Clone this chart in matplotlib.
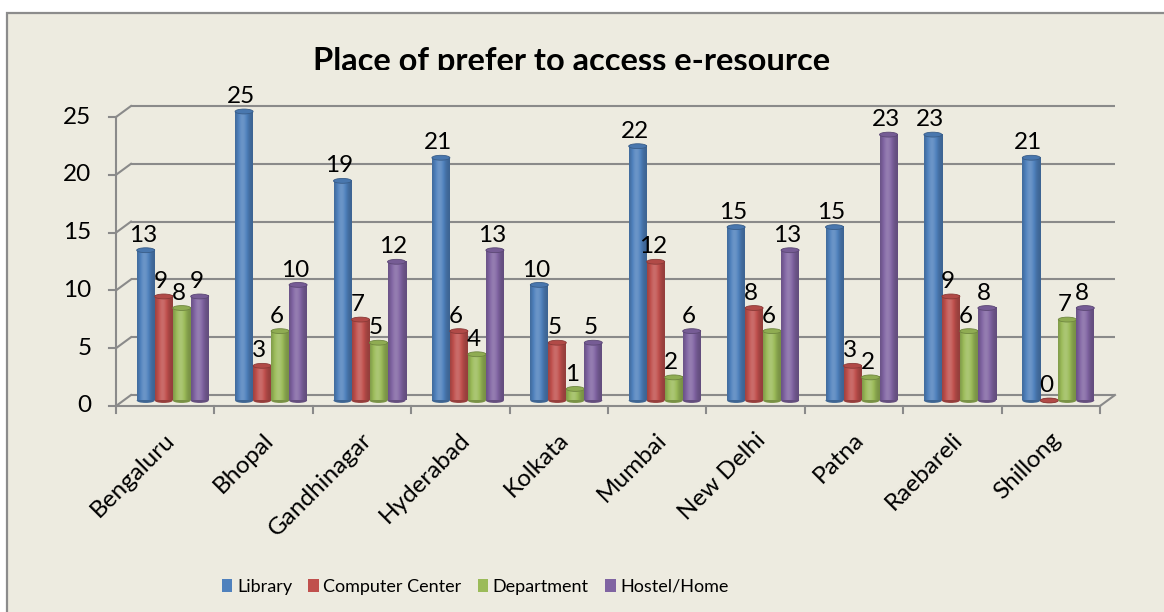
import numpy as np
import matplotlib
matplotlib.use("Agg")
import matplotlib.pyplot as plt
import matplotlib.colors as mcolors
from matplotlib.patches import Ellipse, Rectangle, Patch

# -------------------------------
# Data
# -------------------------------
cities = ["Bengaluru", "Bhopal", "Gandhinagar", "Hyderabad", "Kolkata",
          "Mumbai", "New Delhi", "Patna", "Raebareli", "Shillong"]
library = [13, 25, 19, 21, 10, 22, 15, 15, 23, 21]
computer_center = [9, 3, 7, 6, 5, 12, 8, 3, 9, 0]
department = [8, 6, 5, 4, 1, 2, 6, 2, 6, 7]
hostel_home = [9, 10, 12, 13, 5, 6, 13, 23, 8, 8]
series_names = ["Library", "Computer Center", "Department", "Hostel/Home"]
y_ticks = [0, 5, 10, 15, 20, 25]
title = "Place of prefer to access e-resource"

colors = ["#4F81BD", "#C0504D", "#9BBB59", "#8064A2"]
series = [library, computer_center, department, hostel_home]

BG = "#EDEBE0"
GRID = "#8A8A8A"
FONT = "Lato"

W, H = 1164, 612
fig = plt.figure(figsize=(W / 100, H / 100), dpi=100, facecolor="white")

# chart area background + border (cut off at right and bottom)
fig.patches.append(Rectangle((7 / W, -0.1), 1.2, (H - 13) / H + 0.1,
                             transform=fig.transFigure, facecolor=BG,
                             edgecolor="#8C8C8C", lw=1.6, zorder=-10))

ax = fig.add_axes([116 / W, (H - 406) / H, 984 / W, 289 / H])
ax.set_xlim(0, len(cities))
ax.set_ylim(0, 25)
ax.axis("off")

# 3D depth offsets (data units)
DX = 15 / 98.4
DY = 11 / 11.56
bar_w = 18 / 98.4
ell_h = 0.42


def shade(rgb, s):
    if s < 1:
        return np.clip(rgb * s, 0, 1)
    return np.clip(rgb + (1 - rgb) * (s - 1), 0, 1)


def cylinder(left, height, base, color, z):
    rgb = np.array(mcolors.to_rgb(color))
    t = np.linspace(0, 1, 64)
    s = 0.76 + 0.40 * np.exp(-((t - 0.42) / 0.32) ** 2)
    row = np.array([shade(rgb, v) for v in s])
    img = np.stack([row, row])
    cx = left + bar_w / 2
    ax.add_patch(Ellipse((cx, base), bar_w, ell_h, facecolor=shade(rgb, 0.78),
                         edgecolor="none", zorder=z, clip_on=False))
    if height > 0:
        ax.imshow(img, extent=[left, left + bar_w, base, base + height],
                  aspect="auto", interpolation="bilinear", zorder=z + 0.1,
                  clip_on=False)
    ax.add_patch(Ellipse((cx, base + height), bar_w, ell_h,
                         facecolor=shade(rgb, 0.92), edgecolor=shade(rgb, 0.72),
                         lw=0.6, zorder=z + 0.2, clip_on=False))


# back wall gridlines, ticks and floor
for v in y_ticks:
    ax.plot([DX, len(cities) + DX], [v + DY, v + DY], color=GRID, lw=1.5,
            zorder=1, clip_on=False, solid_capstyle="butt")
    ax.plot([0, DX], [v, v + DY], color=GRID, lw=1.5, zorder=1, clip_on=False)
    ax.plot([-0.07, 0], [v, v], color=GRID, lw=1.5, zorder=1, clip_on=False)
    ax.text(-0.25, v, str(v), ha="right", va="center", fontsize=17.5,
            family=FONT)
ax.plot([0, 0], [0, 25], color=GRID, lw=1.5, zorder=1, clip_on=False)
ax.plot([0, len(cities)], [0, 0], color=GRID, lw=1.5, zorder=1, clip_on=False)
ax.plot([len(cities), len(cities) + DX], [0, DY], color=GRID, lw=1.5,
        zorder=1, clip_on=False)
for i in range(len(cities) + 1):
    ax.plot([i, i], [0, -0.6], color=GRID, lw=1.5, zorder=1, clip_on=False)

# bars
for i, city in enumerate(cities):
    start = i + 0.5 - 2 * bar_w + DX / 2
    for j, vals in enumerate(series):
        left = start + j * bar_w
        cylinder(left, vals[i], DY / 2, colors[j], 3 + j * 0.5)
        ax.text(left + bar_w / 2 - 0.03, vals[i] + 1.2, str(vals[i]),
                ha="center", va="baseline", fontsize=17.5, family=FONT,
                zorder=10)
    ax.text(i + 0.49, -2.0, city, rotation=45, rotation_mode="anchor",
            ha="right", va="top", fontsize=17.5, family=FONT)

# title; its lower part is cut off in the reference
fig.text(572 / W, 1 - 70.5 / H, title, ha="center", va="baseline",
         fontsize=23.5, fontweight="bold", family=FONT, zorder=3)
fig.patches.append(Rectangle((300 / W, 1 - 82 / H), 560 / W, 11.5 / H,
                             transform=fig.transFigure, facecolor=BG,
                             edgecolor="none", zorder=5))

# legend
handles = [Patch(facecolor=c, edgecolor="none") for c in colors]
fig.legend(handles, series_names, loc="center left",
           bbox_to_anchor=(222 / W, 1 - 587 / H), ncol=4, frameon=False,
           prop={"family": FONT, "size": 13}, handlelength=0.58,
           handleheight=0.75, handletextpad=0.25, columnspacing=0.9,
           borderpad=0, borderaxespad=0)

fig.savefig("out.png", dpi=100, facecolor="white")
